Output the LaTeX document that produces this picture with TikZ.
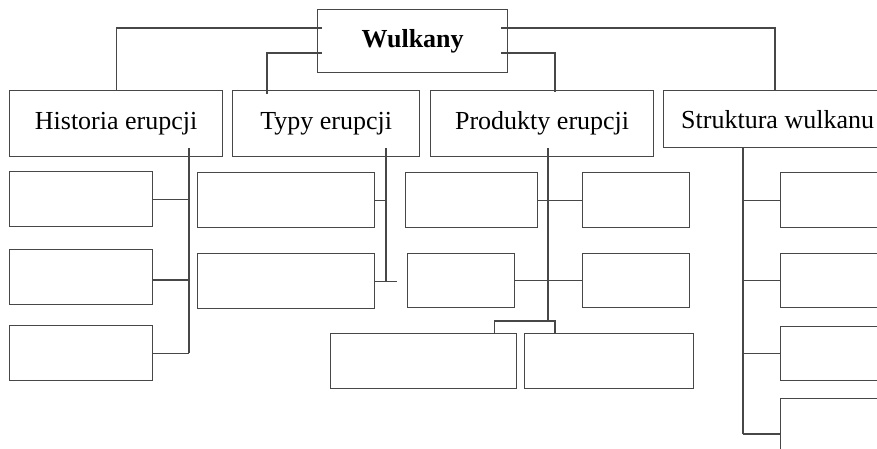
\documentclass[tikz,border=0pt]{standalone}
\usepackage{fontspec}
\setmainfont{Liberation Serif}
\usetikzlibrary{calc}
\begin{document}
\begin{tikzpicture}[x=1pt,y=-1pt,
  box/.style={draw=black!72, line width=1.25pt, rectangle, inner sep=0pt, anchor=north west,
    font=\fontsize{26}{30}\selectfont},
  link/.style={draw=black!72, line width=1.25pt}]
\useasboundingbox (0,0) rectangle (877,449);
\clip (0,0) rectangle (877,449);
% top
\node[box, minimum width=190, minimum height=63] (w) at (317,9) {\textbf{Wulkany}};
% level 1
\node[box, minimum width=213, minimum height=66] (h) at (9,90) {Historia erupcji};
\node[box, minimum width=187, minimum height=66] (t) at (232,90) {Typy erupcji};
\node[box, minimum width=223, minimum height=66] (p) at (430,90) {Produkty erupcji};
\node[box, minimum width=228, minimum height=57] (s) at (663,90) {Struktura wulkanu};
% Historia children
\node[box, minimum width=143, minimum height=55] (h1) at (9,171) {};
\node[box, minimum width=143, minimum height=55] (h2) at (9,249) {};
\node[box, minimum width=143, minimum height=55] (h3) at (9,325) {};
% Typy children
\node[box, minimum width=177, minimum height=55] (t1) at (197,172) {};
\node[box, minimum width=177, minimum height=55] (t2) at (197,253) {};
% Produkty children
\node[box, minimum width=132, minimum height=55] (p1) at (405,172) {};
\node[box, minimum width=107, minimum height=55] (p2) at (582,172) {};
\node[box, minimum width=107, minimum height=54] (p3) at (407,253) {};
\node[box, minimum width=107, minimum height=54] (p4) at (582,253) {};
\node[box, minimum width=186, minimum height=55] (p5) at (330,333) {};
\node[box, minimum width=169, minimum height=55] (p6) at (524,333) {};
% Struktura children
\node[box, minimum width=120, minimum height=55] (s1) at (780,172) {};
\node[box, minimum width=120, minimum height=54] (s2) at (780,253) {};
\node[box, minimum width=120, minimum height=54] (s3) at (780,326) {};
\node[box, minimum width=120, minimum height=80] (s4) at (780,398) {};
% connectors from the top box
\draw[link] ($(w.west|-0,28)+(5,0)$) -| (h.north);
\draw[link] ($(w.west|-0,53)+(5,0)$) -| ($(t.north west)+(35,4)$);
\draw[link] ($(w.east|-0,28)+(-7,0)$) -| ($(s.north west)+(112,0)$);
\draw[link] ($(w.east|-0,53)+(-7,0)$) -| ($(p.north west)+(125,2)$);
% Historia
\coordinate (hv) at ($(h.south west)+(180,-9)$);
\draw[link] (hv) -- (hv |- h3.east);
\draw[link] (h1.east) -- (h1.east -| hv);
\draw[link] ($(h2.north east)+(0,31)$) -- ($(h2.north east -| hv)+(0,31)$);
\draw[link] (h3.east) -- (h3.east -| hv);
% Typy
\coordinate (tv) at ($(t.south west)+(154,-9)$);
\coordinate (ttail) at ($(t2.east)+(22,0)$);
\draw[link] (tv) -- (tv |- t2.east);
\draw[link] (t1.east) -- (t1.east -| tv);
\draw[link] (t2.east) -- (ttail);
% Produkty
\coordinate (pv) at ($(p.south west)+(118,-9)$);
\draw[link] (pv) -- (pv |- 0,321);
\draw[link] (p1.east) -- (p2.west);
\draw[link] (p3.east) -- (p4.west);
\draw[link] ($(p5.north east)+(-23,0)$) |- ($(p6.north west)+(31,-12)$) -- ($(p6.north west)+(31,0)$);
% Struktura
\coordinate (sv) at ($(s.south west)+(80,0)$);
\draw[link] (sv) -- ($(s4.north west -| sv)+(0,36)$);
\draw[link] (s1.west) -- (s1.west -| sv);
\draw[link] (s2.west) -- (s2.west -| sv);
\draw[link] (s3.west) -- (s3.west -| sv);
\draw[link] ($(s4.north west)+(0,36)$) -- ($(s4.north west -| sv)+(0,36)$);
\end{tikzpicture}
\end{document}
